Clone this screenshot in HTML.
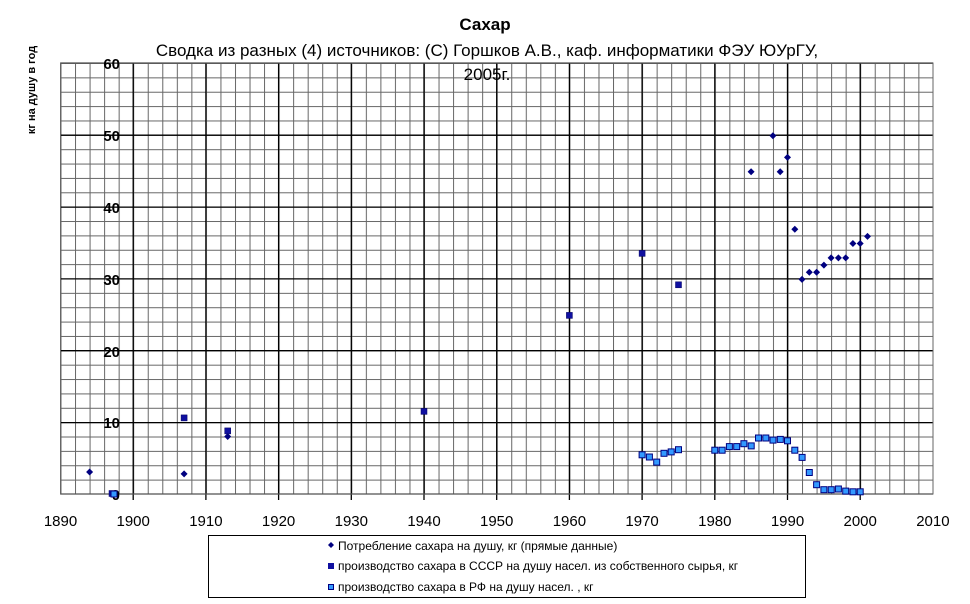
<!DOCTYPE html><html><head><meta charset="utf-8"><style>body{margin:0;background:#fff}svg{display:block;font-family:"Liberation Sans",Arial,sans-serif}</style></head><body>
<svg width="970" height="604" xmlns="http://www.w3.org/2000/svg">
<defs>
<pattern id="g" x="60.5" y="63" width="14.54" height="14.366" patternUnits="userSpaceOnUse">
<path d="M0.5 0V14.366M0 0.5H14.54" stroke="#666" stroke-width="1" fill="none"/>
</pattern>
</defs>
<rect x="60.5" y="63" width="872.5" height="431" fill="url(#g)"/>
<g stroke="#000" stroke-width="1.3">
<path d="M133.2 63V500M205.9 63V500M278.6 63V500M351.3 63V500M424 63V500M496.7 63V500M569.4 63V500M642.1 63V500M714.8 63V500M787.5 63V500M860.2 63V500"/>
<path d="M60.5 63H933M60.5 135.2H933M60.5 207.1H933M60.5 278.9H933M60.5 350.7H933M60.5 422.6H933M60.5 494H933"/>
</g>
<rect x="60.5" y="63" width="872.5" height="431" fill="none" stroke="#666"/>
<text x="485" y="30" font-size="17" font-weight="bold" text-anchor="middle">Сахар</text>
<text x="487" y="56" font-size="17" text-anchor="middle">Сводка из разных (4) источников: (С) Горшков А.В., каф. информатики ФЭУ ЮУрГУ,</text>
<text x="487" y="80" font-size="17" text-anchor="middle">2005г.</text>
<text transform="translate(35,90) rotate(-90)" font-size="11" font-weight="bold" text-anchor="middle">кг на душу в год</text>
<g font-size="15" font-weight="bold" text-anchor="end">
<text x="120" y="69">60</text><text x="120" y="141">50</text><text x="120" y="213">40</text><text x="120" y="285">30</text><text x="120" y="357">20</text><text x="120" y="428">10</text><text x="120" y="500">0</text>
</g>
<g font-size="15" text-anchor="middle">
<text x="60.5" y="526">1890</text><text x="133.2" y="526">1900</text><text x="205.9" y="526">1910</text><text x="278.6" y="526">1920</text><text x="351.3" y="526">1930</text><text x="424" y="526">1940</text><text x="496.7" y="526">1950</text><text x="569.4" y="526">1960</text><text x="642.1" y="526">1970</text><text x="714.8" y="526">1980</text><text x="787.5" y="526">1990</text><text x="860.2" y="526">2000</text><text x="932.9" y="526">2010</text>
</g>
<g fill="#000080">
<path d="M89.6 468.5l3.5 3.5l-3.5 3.5l-3.5-3.5z"/>
<path d="M184.1 470.4l3.5 3.5l-3.5 3.5l-3.5-3.5z"/>
<path d="M227.7 433l3.5 3.5l-3.5 3.5l-3.5-3.5z"/>
<path d="M751.1 168.2l3.5 3.5l-3.5 3.5l-3.5-3.5z"/>
<path d="M772.9 132.3l3.5 3.5l-3.5 3.5l-3.5-3.5z"/>
<path d="M780.2 168.2l3.5 3.5l-3.5 3.5l-3.5-3.5z"/>
<path d="M787.5 153.9l3.5 3.5l-3.5 3.5l-3.5-3.5z"/>
<path d="M794.8 225.7l3.5 3.5l-3.5 3.5l-3.5-3.5z"/>
<path d="M802 275.9l3.5 3.5l-3.5 3.5l-3.5-3.5z"/>
<path d="M809.3 268.8l3.5 3.5l-3.5 3.5l-3.5-3.5z"/>
<path d="M816.6 268.8l3.5 3.5l-3.5 3.5l-3.5-3.5z"/>
<path d="M823.9 261.6l3.5 3.5l-3.5 3.5l-3.5-3.5z"/>
<path d="M831.1 254.4l3.5 3.5l-3.5 3.5l-3.5-3.5z"/>
<path d="M838.4 254.4l3.5 3.5l-3.5 3.5l-3.5-3.5z"/>
<path d="M845.7 254.4l3.5 3.5l-3.5 3.5l-3.5-3.5z"/>
<path d="M852.9 240l3.5 3.5l-3.5 3.5l-3.5-3.5z"/>
<path d="M860.2 240l3.5 3.5l-3.5 3.5l-3.5-3.5z"/>
<path d="M867.5 232.9l3.5 3.5l-3.5 3.5l-3.5-3.5z"/>
</g>
<g fill="#1010a0" stroke="#000060" stroke-width="0.5">
<rect x="109" y="490.5" width="6" height="6"/>
<rect x="181.1" y="414.9" width="6" height="6"/>
<rect x="224.7" y="427.9" width="6" height="6"/>
<rect x="421" y="408.4" width="6" height="6"/>
<rect x="566.4" y="312.4" width="6" height="6"/>
<rect x="639.1" y="250.4" width="6" height="6"/>
<rect x="675.5" y="281.8" width="6" height="6"/>
</g>
<g fill="#3399ff" stroke="#000080" stroke-width="1">
<rect x="111" y="491" width="6" height="6"/>
<rect x="639.1" y="451.8" width="6" height="6"/>
<rect x="646.4" y="454" width="6" height="6"/>
<rect x="653.7" y="459.1" width="6" height="6"/>
<rect x="661" y="450.3" width="6" height="6"/>
<rect x="668.2" y="448.9" width="6" height="6"/>
<rect x="675.5" y="446.7" width="6" height="6"/>
<rect x="711.8" y="447.2" width="6" height="6"/>
<rect x="719.1" y="447.2" width="6" height="6"/>
<rect x="726.4" y="443.6" width="6" height="6"/>
<rect x="733.7" y="443.6" width="6" height="6"/>
<rect x="740.9" y="440.7" width="6" height="6"/>
<rect x="748.2" y="442.9" width="6" height="6"/>
<rect x="755.5" y="435" width="6" height="6"/>
<rect x="762.8" y="435" width="6" height="6"/>
<rect x="770" y="437.1" width="6" height="6"/>
<rect x="777.3" y="436.4" width="6" height="6"/>
<rect x="784.5" y="437.8" width="6" height="6"/>
<rect x="791.8" y="447.2" width="6" height="6"/>
<rect x="799.1" y="454.4" width="6" height="6"/>
<rect x="806.3" y="469.5" width="6" height="6"/>
<rect x="813.6" y="481.7" width="6" height="6"/>
<rect x="820.9" y="486.7" width="6" height="6"/>
<rect x="828.2" y="486.7" width="6" height="6"/>
<rect x="835.4" y="486" width="6" height="6"/>
<rect x="842.7" y="488.1" width="6" height="6"/>
<rect x="850" y="488.8" width="6" height="6"/>
<rect x="857.2" y="488.8" width="6" height="6"/>
</g>
<rect x="208.5" y="535.5" width="597" height="62" fill="#fff" stroke="#000"/>
<g font-size="12">
<path d="M331 542l3 3l-3 3l-3-3z" fill="#000080"/>
<text x="338" y="550">Потребление сахара на душу, кг (прямые данные)</text>
<rect x="328" y="563" width="6" height="6" fill="#1010a0"/>
<text x="338" y="570">производство сахара в СССР на душу насел. из собственного сырья, кг</text>
<rect x="328.5" y="584.5" width="5" height="5" fill="#3399ff" stroke="#000080"/>
<text x="338" y="591">производство сахара в РФ на душу насел. , кг</text>
</g>
</svg>
</body></html>
